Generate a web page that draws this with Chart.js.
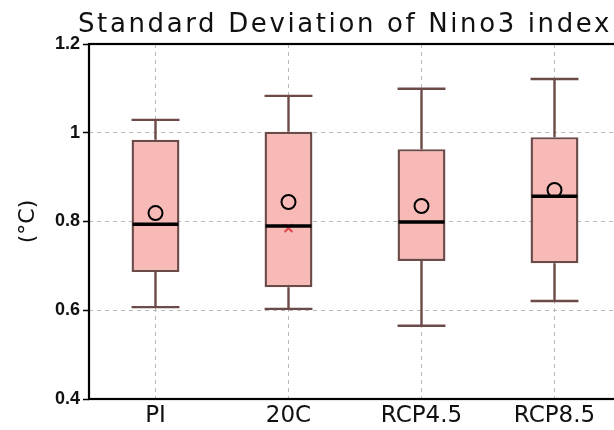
<!DOCTYPE html>
<html>
<head>
<meta charset="utf-8">
<script src="https://cdn.jsdelivr.net/npm/chart.js@4"></script>
<style>
  html, body { margin: 0; padding: 0; background: #fff; overflow: hidden; }
  #wrap { width: 690px; height: 430px; }
</style>
</head>
<body>
<div id="wrap"><canvas id="sdChart" width="690" height="430"></canvas></div>
<script>
// ---- data ----
const categories = ['PI', '20C', 'RCP4.5', 'RCP8.5'];
const whiskerLow = [0.607, 0.603, 0.565, 0.621];
const q1Values   = [0.686, 0.652, 0.711, 0.706];
const medians    = [0.794, 0.790, 0.799, 0.857];
const q3Values   = [0.984, 1.002, 0.963, 0.990];
const whiskerHigh = [1.029, 1.083, 1.099, 1.121];
const means      = [0.819, 0.844, 0.835, 0.871];
const crossMarks = [null, 0.785, null, null];
const yTicks     = [0.4, 0.6, 0.8, 1.0, 1.2];

const titleText = 'Standard Deviation of Nino3 index';
const BOX_EDGE = '#6c4a48';

// whiskers behind the boxes, medians + frame + title on top
const boxExtras = {
    id: 'boxExtras',
    beforeDatasetsDraw(chart) {
        const ctx = chart.ctx;
        const y = chart.scales.y;
        const bars = chart.getDatasetMeta(0).data;
        ctx.save();
        ctx.strokeStyle = BOX_EDGE;
        ctx.lineWidth = 2.4;
        bars.forEach((bar, i) => {
            const half = bar.width / 2;
            const yHi = y.getPixelForValue(whiskerHigh[i]);
            const yLo = y.getPixelForValue(whiskerLow[i]);
            ctx.beginPath();
            ctx.moveTo(bar.x, yHi); ctx.lineTo(bar.x, y.getPixelForValue(q3Values[i]));
            ctx.moveTo(bar.x, yLo); ctx.lineTo(bar.x, y.getPixelForValue(q1Values[i]));
            ctx.moveTo(bar.x - half, yHi); ctx.lineTo(bar.x + half, yHi);
            ctx.moveTo(bar.x - half, yLo); ctx.lineTo(bar.x + half, yLo);
            ctx.stroke();
        });
        ctx.restore();
    },
    afterDatasetsDraw(chart) {
        const ctx = chart.ctx;
        const y = chart.scales.y;
        const bars = chart.getDatasetMeta(0).data;
        const area = chart.chartArea;
        ctx.save();
        // median lines
        ctx.strokeStyle = '#000';
        ctx.lineWidth = 3.5;
        bars.forEach((bar, i) => {
            const half = bar.width / 2 - 1;
            const ym = y.getPixelForValue(medians[i]);
            ctx.beginPath();
            ctx.moveTo(bar.x - half, ym); ctx.lineTo(bar.x + half, ym);
            ctx.stroke();
        });
        // frame
        ctx.lineWidth = 2.2;
        ctx.strokeRect(area.left, area.top, area.right - area.left, area.bottom - area.top);
        // title, stretched to the width it has in the figure
        ctx.fillStyle = '#111';
        ctx.font = '26px "DejaVu Sans"';
        ctx.textBaseline = 'alphabetic';
        ctx.textAlign = 'left';
        const w = ctx.measureText(titleText).width;
        const span = 534;
        ctx.letterSpacing = Math.max(0, (span - w) / titleText.length).toFixed(2) + 'px';
        ctx.fillText(titleText, 78, 32);
        ctx.restore();
    }
};

new Chart(document.getElementById('sdChart').getContext('2d'), {
    type: 'bar',
    data: {
        labels: categories,
        datasets: [
            {
                label: 'box',
                data: categories.map((c, i) => [q1Values[i], q3Values[i]]),
                backgroundColor: '#f7bab6',
                borderColor: BOX_EDGE,
                borderWidth: 2.4,
                borderSkipped: false,
                barPercentage: 0.36,
                categoryPercentage: 1.0,
                order: 3
            },
            {
                type: 'line',
                label: 'mean',
                data: means,
                showLine: false,
                pointStyle: 'circle',
                pointRadius: 7,
                pointBackgroundColor: 'rgba(0,0,0,0)',
                pointBorderColor: '#000',
                pointBorderWidth: 2,
                order: 2
            },
            {
                type: 'line',
                label: 'cross',
                data: crossMarks,
                showLine: false,
                pointStyle: 'crossRot',
                pointRadius: 5.5,
                pointBorderColor: '#e04a4e',
                pointBorderWidth: 2.2,
                order: 1
            }
        ]
    },
    options: {
        responsive: false,
        animation: false,
        layout: { padding: { top: 44, left: 0, right: 69, bottom: 0 } },
        plugins: {
            legend: { display: false },
            tooltip: { enabled: false },
            title: { display: false }
        },
        scales: {
            x: {
                offset: true,
                grid: {
                    offset: false,
                    color: '#b8b8b8',
                    lineWidth: 1,
                    drawTicks: false
                },
                border: { display: false, dash: [4, 4] },
                ticks: {
                    color: '#111',
                    padding: 3,
                    font: { family: 'DejaVu Sans', size: 23 }
                },
                afterFit(scale) { scale.height = 31; }
            },
            y: {
                min: 0.4,
                max: 1.2,
                afterBuildTicks(scale) { scale.ticks = yTicks.map(v => ({ value: v })); },
                grid: {
                    color: (c) => (c.tick && (c.tick.value === 0.4 || c.tick.value === 1.2)) ? 'rgba(0,0,0,0)' : '#b8b8b8',
                    lineWidth: 1,
                    tickLength: 6,
                    tickColor: '#000',
                    tickWidth: 1.5,
                    tickBorderDash: []
                },
                border: { display: false, dash: [4, 4] },
                ticks: {
                    color: '#111',
                    padding: 3,
                    font: { family: 'Liberation Sans', size: 18, weight: 'bold' },
                    callback: (v) => String(+Number(v).toFixed(1))
                },
                title: {
                    display: true,
                    text: '(°C)',
                    color: '#111',
                    font: { family: 'DejaVu Sans', size: 22 },
                    padding: { top: 15, bottom: 0 }
                },
                afterFit(scale) { scale.width = 89; }
            }
        }
    },
    plugins: [boxExtras]
});
</script>
</body>
</html>
